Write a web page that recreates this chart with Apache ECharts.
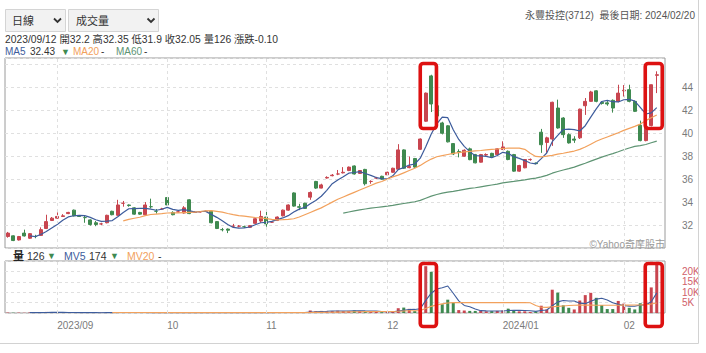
<!DOCTYPE html>
<html><head><meta charset="utf-8">
<script src="https://cdn.jsdelivr.net/npm/echarts@6/dist/echarts.min.js"></script>
<style>html,body{margin:0;padding:0;background:#fff}#c{width:706px;height:353px}</style>
</head><body><div id="c"></div>
<script>
// ---------- data ----------
const dates = [
'2023/08/21','2023/08/22','2023/08/23','2023/08/24','2023/08/25','2023/08/28','2023/08/29','2023/08/30','2023/08/31',
'2023/09/01','2023/09/04','2023/09/05','2023/09/06','2023/09/07','2023/09/08','2023/09/11','2023/09/12','2023/09/13','2023/09/14','2023/09/15','2023/09/18','2023/09/19','2023/09/20','2023/09/21','2023/09/22','2023/09/25','2023/09/26','2023/09/27','2023/09/28',
'2023/10/02','2023/10/03','2023/10/04','2023/10/05','2023/10/06','2023/10/11','2023/10/12','2023/10/13','2023/10/16','2023/10/17','2023/10/18','2023/10/19','2023/10/20','2023/10/23','2023/10/24','2023/10/26','2023/10/27','2023/10/30',
'2023/11/01','2023/11/02','2023/11/03','2023/11/06','2023/11/07','2023/11/08','2023/11/09','2023/11/10','2023/11/13','2023/11/14','2023/11/15','2023/11/16','2023/11/17','2023/11/20','2023/11/21','2023/11/22','2023/11/23','2023/11/24','2023/11/27','2023/11/28','2023/11/29','2023/11/30',
'2023/12/01','2023/12/04','2023/12/05','2023/12/06','2023/12/07','2023/12/08','2023/12/11','2023/12/12','2023/12/13','2023/12/14','2023/12/15','2023/12/18','2023/12/19','2023/12/20','2023/12/21','2023/12/22','2023/12/25','2023/12/26','2023/12/27','2023/12/28','2023/12/29',
'2024/01/02','2024/01/03','2024/01/04','2024/01/05','2024/01/08','2024/01/09','2024/01/10','2024/01/11','2024/01/12','2024/01/15','2024/01/16','2024/01/17','2024/01/18','2024/01/19','2024/01/22','2024/01/23','2024/01/24','2024/01/25','2024/01/26','2024/01/29','2024/01/30','2024/01/31',
'2024/02/01','2024/02/02','2024/02/05','2024/02/15','2024/02/16','2024/02/19','2024/02/20'];

const monthTicks  = ['2023/09/01','2023/10/02','2023/11/01','2023/12/01','2024/01/02','2024/02/01'];
const monthLabels = ['2023/09','10','11','12','2024/01','02'];

const openP = [31.0,31.06,30.7,31.3,30.85,31.0,31.1,31.7,32.4,32.6,
 32.75,33.0,33.3,32.8,32.65,32.45,32.2,32.1,32.2,33.2,
 32.85,33.9,33.75,33.5,33.1,32.9,33.6,33.2,33.4,34.4,
 33.1,33.15,33.05,34.2,33.1,33.15,33.2,33.2,32.3,31.6,
 31.65,31.9,31.9,31.85,31.8,32.15,32.35,32.7,32.25,32.4,
 32.8,33.3,34.8,33.6,33.9,34.43,35.8,35.22,36.1,36.3,
 36.45,36.55,36.75,37.15,36.5,36.85,35.8,36.1,36.25,36.38,
 36.6,36.87,38.55,37.0,37.8,38.6,41.05,45.0,42.4,40.9,
 40.65,39.1,38.4,38.0,38.64,38.14,37.48,38.1,38.25,38.14,
 38.58,38.43,38.14,36.7,36.99,37.7,37.4,40.09,39.2,39.5,
 42.2,41.33,39.88,39.5,39.6,42.4,42.78,43.7,42.7,42.65,
 42.87,42.78,43.7,43.8,42.78,40.7,39.36,40.67,45.05];
const closeP = [31.3,30.65,31.0,31.05,31.25,31.0,31.6,32.3,32.6,32.75,
 32.8,33.1,32.8,32.75,32.65,32.05,32.05,32.1,32.85,32.9,
 33.75,33.9,33.7,32.95,32.95,33.75,33.6,33.2,33.4,33.75,
 32.9,33.15,33.5,33.0,33.1,33.15,33.2,32.2,31.7,31.6,
 31.55,31.9,31.9,31.85,31.95,32.55,32.75,32.1,32.25,32.7,
 33.3,33.75,33.65,33.55,33.45,34.84,35.22,35.5,36.15,36.35,
 36.45,36.6,37.05,36.45,36.75,35.6,35.8,36.1,36.0,36.6,
 36.95,38.55,36.95,37.1,37.05,39.5,43.5,42.55,41.5,40.0,
 39.25,38.2,38.35,38.52,37.7,37.42,38.14,38.15,37.95,38.64,
 38.81,37.71,36.7,37.19,37.71,37.72,37.35,39.0,39.6,42.7,
 40.46,39.88,39.16,39.4,42.1,42.78,43.6,42.78,42.6,42.55,
 42.2,43.5,43.75,42.78,41.91,39.36,40.6,44.23,45.1];
const lowP = [30.9,30.6,30.65,31.0,30.8,30.85,31.05,31.65,32.35,32.55,
 32.7,32.95,32.75,32.7,32.2,31.95,31.9,32.0,32.15,32.85,
 32.8,33.6,33.6,32.9,32.9,32.85,33.45,33.0,33.35,33.7,
 32.85,33.1,33.0,32.95,33.05,33.1,33.15,32.15,31.65,31.45,
 31.3,31.8,31.8,31.75,31.75,32.1,32.2,31.85,32.2,32.35,
 32.75,33.25,33.6,33.3,33.4,34.2,35.15,35.2,36.05,36.25,
 36.35,36.5,36.7,36.4,36.45,35.45,35.6,36.0,35.95,36.35,
 36.55,36.8,36.9,36.95,37.0,38.55,41.0,41.85,41.3,39.9,
 39.2,38.1,37.9,37.95,37.65,37.38,37.45,38.0,37.9,38.1,
 38.55,37.65,36.65,36.65,36.95,37.6,37.3,38.29,38.3,38.9,
 40.4,39.6,39.1,39.16,39.5,41.6,42.75,42.7,42.5,42.4,
 41.8,42.7,43.2,42.7,41.85,39.3,39.3,40.6,43.5];
const highP = [31.4,31.1,31.05,31.6,31.3,31.15,31.8,32.9,32.7,33.1,
 32.95,33.15,33.35,32.85,32.85,32.5,32.35,32.2,32.9,33.25,
 34.2,34.1,33.8,33.55,33.15,34.0,34.3,33.4,33.5,34.45,
 33.2,33.2,33.65,34.25,33.2,33.2,33.25,33.25,32.35,31.75,
 31.7,32.1,32.0,31.95,32.0,32.6,33.25,33.2,32.3,32.75,
 33.35,33.8,34.85,33.85,33.95,34.93,35.85,35.6,36.25,36.45,
 36.8,37.05,37.1,37.2,36.8,36.9,35.9,36.2,36.3,36.65,
 37.0,39.05,38.6,37.97,37.85,39.55,43.55,45.1,42.6,41.0,
 40.7,39.15,38.6,38.6,38.75,38.2,38.2,38.25,38.3,38.7,
 39.3,38.5,38.2,37.25,37.75,37.8,37.45,40.38,39.7,42.75,
 42.93,41.4,40.0,39.74,42.15,43.07,43.7,43.75,42.8,42.8,
 42.95,44.23,44.2,44.23,42.85,41.1,40.65,44.25,45.4];

const volume = [210,150,180,120,260,90,310,520,280,190,
 160,230,200,160,230,154,126,100,240,170,
 420,260,150,200,130,310,220,120,140,250,
 180,90,160,270,100,80,120,300,260,150,
 140,110,90,120,100,220,380,190,130,170,
 260,310,340,150,180,1200,900,1000,800,900,
 1100,900,1000,1200,1000,900,800,500,400,600,
 800,2300,2600,2000,900,2400,22500,19800,12000,4200,
 6400,5000,1400,1200,1000,1000,1000,800,900,1000,
 1200,2100,1200,800,800,500,600,3500,1700,11200,
 9800,3700,2500,1700,6000,8600,9700,7300,3800,1900,
 1900,5800,4500,2500,1700,4700,6000,12300,23700];

// moving averages as read (first index where each line begins)
const ma5Start = 4;
const ma5 = [31.05,30.99,31.18,31.44,31.75,32.05,32.41,32.71,32.81,32.84,
 32.82,32.67,32.46,32.32,32.34,32.39,32.73,33.1,33.42,33.44,
 33.45,33.45,33.39,33.29,33.38,33.54,33.37,33.28,33.34,33.26,
 33.13,33.18,33.19,32.93,32.67,32.37,32.05,31.79,31.73,31.76,
 31.83,32.03,32.2,32.24,32.32,32.47,32.62,32.82,33.13,33.39,
 33.54,33.85,34.14,34.51,35.03,35.61,35.93,36.21,36.52,36.58,
 36.66,36.49,36.33,36.14,36.05,36.02,36.29,36.84,37.01,37.23,
 37.32,37.83,38.82,39.94,40.82,41.41,41.36,40.3,39.46,38.86,
 38.4,38.04,38.03,37.99,37.87,38.06,38.34,38.25,37.96,37.81,
 37.62,37.41,37.33,37.79,38.28,39.27,39.82,40.33,40.36,40.32,
 40.2,40.66,41.41,42.13,42.77,42.86,42.75,42.73,42.92,42.96,
 42.81,42.26,41.68,41.78,42.24];
const ma20Start = 21;
const ma20 = [32.36,32.5,32.59,32.68,32.82,32.92,32.96,33.0,33.05,33.06,
 33.06,33.09,33.11,33.13,33.18,33.24,33.25,33.19,33.12,33.01,
 32.91,32.82,32.77,32.72,32.66,32.62,32.56,32.5,32.45,32.47,
 32.5,32.55,32.7,32.9,33.1,33.3,33.5,33.75,34.0,34.25,
 34.45,34.65,34.85,35.05,35.25,35.45,35.65,35.8,36.0,36.2,
 36.35,36.55,36.75,36.95,37.2,37.5,37.75,37.95,38.05,38.15,
 38.25,38.32,38.38,38.43,38.47,38.5,38.55,38.6,38.63,38.67,
 38.7,38.71,38.7,38.6,38.25,37.98,37.94,38.0,38.08,38.18,
 38.26,38.35,38.45,38.6,38.8,39.05,39.3,39.5,39.68,39.86,
 40.05,40.25,40.43,40.6,40.8,41.1,41.35,41.6];
const ma60Start = 61;
const ma60 = [33.04,33.14,33.23,33.32,33.4,33.47,33.53,33.59,33.65,33.72,
 33.81,33.88,33.95,34.03,34.15,34.34,34.52,34.66,34.78,34.87,
 34.94,35.02,35.11,35.19,35.25,35.33,35.41,35.49,35.57,35.67,
 35.74,35.8,35.87,35.94,36.02,36.09,36.2,36.33,36.52,36.67,
 36.8,36.92,37.05,37.22,37.39,37.57,37.75,37.92,38.08,38.23,
 38.39,38.56,38.72,38.86,38.93,39.02,39.17,39.32];
const mv5Start = 4;
const mv5 = [184,160,192,260,292,278,292,276,212,188,
 196,195,174,154,170,158,211,238,248,240,
 232,210,202,196,184,208,182,156,164,190,
 160,140,146,174,172,182,194,192,150,122,
 112,128,182,202,204,218,226,212,242,246,
 248,436,554,686,816,960,940,940,940,1020,
 1040,1000,980,880,720,640,620,920,1340,1660,
 1720,2040,6080,9520,11520,12180,12980,9480,5800,3640,
 3000,1920,1120,1000,940,940,980,1200,1280,1260,
 1220,1080,780,1240,1420,3500,5360,5980,5780,5780,
 4740,4500,5700,6660,7080,6260,4920,4140,3580,3320,
 3280,3840,3880,5440,9680];
const mv20Start = 19;
const mv20 = [204,214.5,220,218.5,222.5,216,227,222.5,202.5,195.5,
 198.5,199.5,192.5,190.5,196,189.5,185.8,185.5,195.5,196.5,
 195.5,181.5,174,171,167,165.5,161,169,172.5,172,
 168,172,183,192,186,190,246,285,320,347,
 384.5,432.5,472,517.5,571.5,616.5,650.5,671.5,687,700.5,
 722,749,848.5,961.5,1054,1090,1150,2200,3200,3900,
 4400,4800,5000,5000,5000,5000,5000,5000,5000,5000,
 5000,5000,5000,5000,5000,5000,4950,3600,2800,2700,
 3000,3200,3400,3600,3700,3800,3800,3800,3750,3700,
 3700,3700,3750,3800,3800,3850,3900,4000,4300,4800];

const priceTicks = [32,34,36,38,40,42,44];
const volTicks = [5000,10000,15000,20000];

// ---------- styles ----------
const RED = '#c8454f', GREEN = '#3f8a50';
const C_MA5 = '#3d5c9c', C_MA20 = '#f2a15c', C_MA60 = '#5e9473';
const FONT = '"Liberation Sans","Noto Sans CJK TC",sans-serif';
const GRID_LINE = {color: '#e0e0e0', type: [3, 3], width: 1};

const pad = (start, arr) => Array(start).fill('-').concat(arr);
const xData = dates.concat(['']);   // one empty slot at the right end
const candles = dates.map((d, i) => [openP[i], closeP[i], lowP[i], highP[i]]);
const volBars = volume.map((v, i) => {
  const diff = i ? closeP[i] - closeP[i - 1] : closeP[i] - openP[i];
  const up = diff > 0 || (diff === 0 && closeP[i] >= openP[i]);
  return {value: v, itemStyle: {color: up ? RED : GREEN}};
});
const labelMap = {};
monthTicks.forEach((d, k) => { labelMap[d] = monthLabels[k]; });
const monthMark = {
  silent: true, symbol: ['none', 'none'], label: {show: false},
  lineStyle: GRID_LINE, emphasis: {disabled: true},
  data: monthTicks.map(d => ({xAxis: d}))
};
const blank = xData.map(() => '-');

const chart = echarts.init(document.getElementById('c'), null, {renderer: 'svg'});
const catAxis = (gi, showLabel) => ({
  type: 'category', gridIndex: gi, data: xData, boundaryGap: true,
  axisLine: {show: false}, axisTick: {show: false}, splitLine: {show: false},
  axisLabel: showLabel ? {
    show: true, interval: (idx, val) => labelMap[val] !== undefined,
    formatter: v => labelMap[v] || '', align: 'left', margin: 7,
    color: '#7a7a7a', fontSize: 10, fontFamily: FONT
  } : {show: false}
});

chart.setOption({
  animation: false,
  grid: [
    {left: 5, top: 58, width: 660, height: 190, show: true, borderColor: '#9a9a9a', borderWidth: 1, backgroundColor: 'transparent'},
    {left: 5, top: 261, width: 660, height: 52, show: true, borderColor: '#9a9a9a', borderWidth: 1, backgroundColor: 'transparent'}
  ],
  xAxis: [catAxis(0, false), catAxis(1, true)],
  yAxis: [
    {type: 'value', gridIndex: 0, position: 'right', min: 30, max: 46.56, interval: 2, scale: true,
     axisLine: {show: false}, axisTick: {show: false},
     splitLine: {show: true, lineStyle: GRID_LINE},
     axisLabel: {margin: 17, color: '#7a7a7a', fontSize: 10, fontFamily: FONT,
       formatter: v => priceTicks.indexOf(v) >= 0 ? String(v) : ''}},
    {type: 'value', gridIndex: 1, position: 'right', min: 0, max: 25000, interval: 5000,
     axisLine: {show: false}, axisTick: {show: false},
     splitLine: {show: true, lineStyle: GRID_LINE},
     axisLabel: {margin: 17, color: '#d0606a', fontSize: 10, fontFamily: FONT,
       formatter: v => volTicks.indexOf(v) >= 0 ? (v / 1000) + 'K' : ''}}
  ],
  series: [
    {type: 'line', xAxisIndex: 0, yAxisIndex: 0, data: blank, z: 1, markLine: monthMark, silent: true},
    {type: 'line', xAxisIndex: 1, yAxisIndex: 1, data: blank, z: 1, markLine: monthMark, silent: true},
    {type: 'candlestick', xAxisIndex: 0, yAxisIndex: 0, data: candles, barWidth: 3.6, z: 3,
     itemStyle: {color: RED, color0: GREEN, borderColor: RED, borderColor0: GREEN, borderWidth: 1}},
    {type: 'line', xAxisIndex: 0, yAxisIndex: 0, data: pad(ma5Start, ma5), symbol: 'none', z: 4,
     lineStyle: {color: C_MA5, width: 1.2}},
    {type: 'line', xAxisIndex: 0, yAxisIndex: 0, data: pad(ma20Start, ma20), symbol: 'none', z: 4,
     lineStyle: {color: C_MA20, width: 1.2}},
    {type: 'line', xAxisIndex: 0, yAxisIndex: 0, data: pad(ma60Start, ma60), symbol: 'none', z: 4,
     lineStyle: {color: C_MA60, width: 1.2}},
    {type: 'bar', xAxisIndex: 1, yAxisIndex: 1, data: volBars, barWidth: 3, z: 3},
    {type: 'line', xAxisIndex: 1, yAxisIndex: 1, data: pad(mv5Start, mv5), symbol: 'none', z: 4,
     lineStyle: {color: C_MA5, width: 1.1}},
    {type: 'line', xAxisIndex: 1, yAxisIndex: 1, data: pad(mv20Start, mv20), symbol: 'none', z: 4,
     lineStyle: {color: C_MA20, width: 1.1}}
  ]
});

// ---------- texts & decorations ----------
const txt = (x, y, text, fill, size, extra) => ({
  type: 'text', x: x, y: y, z: 50, silent: true,
  style: Object.assign({text: text, fill: fill, font: size + 'px ' + FONT,
    textAlign: 'left', align: 'left', textVerticalAlign: 'middle', verticalAlign: 'middle'}, extra || {})
});
const px = i => chart.convertToPixel({xAxisIndex: 0}, i);
const redBox = (x1, x2, y1, y2) => ({
  type: 'rect', z: 100, silent: true,
  shape: {x: x1, y: y1, width: x2 - x1, height: y2 - y1, r: 3},
  style: {fill: 'none', stroke: '#dd1111', lineWidth: 3.6}
});
const b1l = px(76) - 5.5, b1r = px(77) + 5.2;
const b2l = px(117) - 6.0, b2r = px(118) + 5.5;

const graphics = [
  // dropdowns
  {type: 'rect', z: 40, shape: {x: 5.5, y: 9.5, width: 60, height: 22}, style: {fill: '#f2f2f2', stroke: '#d4d4d4', lineWidth: 1}},
  {type: 'rect', z: 40, shape: {x: 68.5, y: 9.5, width: 90, height: 22}, style: {fill: '#f2f2f2', stroke: '#d4d4d4', lineWidth: 1}},
  txt(12, 21, '日線', '#333', 11),
  txt(76, 21, '成交量', '#333', 11),
  {type: 'polyline', z: 41, shape: {points: [[54, 18.5], [57.5, 22], [61, 18.5]]}, style: {stroke: '#333', lineWidth: 1.8, fill: 'none'}},
  {type: 'polyline', z: 41, shape: {points: [[147.5, 18.5], [151, 22], [154.5, 18.5]]}, style: {stroke: '#333', lineWidth: 1.8, fill: 'none'}},
  // info line
  txt(5, 39, '2023/09/12 開32.2 高32.35 低31.9 收32.05 量126 漲跌-0.10', '#333', 10.3),
  // MA legend
  txt(5, 51.5, 'MA5', C_MA5, 10),
  txt(30, 51.5, '32.43', '#333', 10),
  txt(61, 51.5, '▼', GREEN, 9),
  txt(73, 51.5, 'MA20', C_MA20, 10),
  txt(101, 51.5, '-', '#333', 10),
  txt(116, 51.5, 'MA60', C_MA60, 10),
  txt(144, 51.5, '-', '#333', 10),
  // title right
  txt(695, 15.5, '永豐投控(3712)  最後日期: 2024/02/20', '#555', 10, {textAlign: 'right', align: 'right'}),
  // volume legend
  txt(13, 255.5, '量', '#222', 11, {font: 'bold 11px ' + FONT}),
  txt(27, 255.5, '126', '#333', 10.5),
  txt(47, 255.5, '▼', GREEN, 9),
  txt(64, 255.5, 'MV5', C_MA5, 10.5),
  txt(89, 255.5, '174', '#333', 10.5),
  txt(110, 255.5, '▼', GREEN, 9),
  txt(127, 255.5, 'MV20', C_MA20, 10.5),
  txt(158, 255.5, '-', '#333', 10.5),
  // copyright
  txt(665, 244, '©Yahoo奇摩股市', '#9a9a9a', 10, {textAlign: 'right', align: 'right'}),
  // frame
  {type: 'line', z: 40, shape: {x1: 698.5, y1: 0, x2: 698.5, y2: 343.5}, style: {stroke: '#d2d2d2', lineWidth: 1}},
  {type: 'line', z: 40, shape: {x1: 0, y1: 343.5, x2: 698.5, y2: 343.5}, style: {stroke: '#d2d2d2', lineWidth: 1}},
  // highlight boxes
  redBox(b1l, b1r, 63.5, 128.5),
  redBox(b2l, b2r, 63.5, 128.5),
  redBox(b1l, b1r, 263.5, 326.5),
  redBox(b2l, b2r, 263.5, 326.5)
];
chart.setOption({graphic: {elements: graphics}});
</script>
</body></html>
